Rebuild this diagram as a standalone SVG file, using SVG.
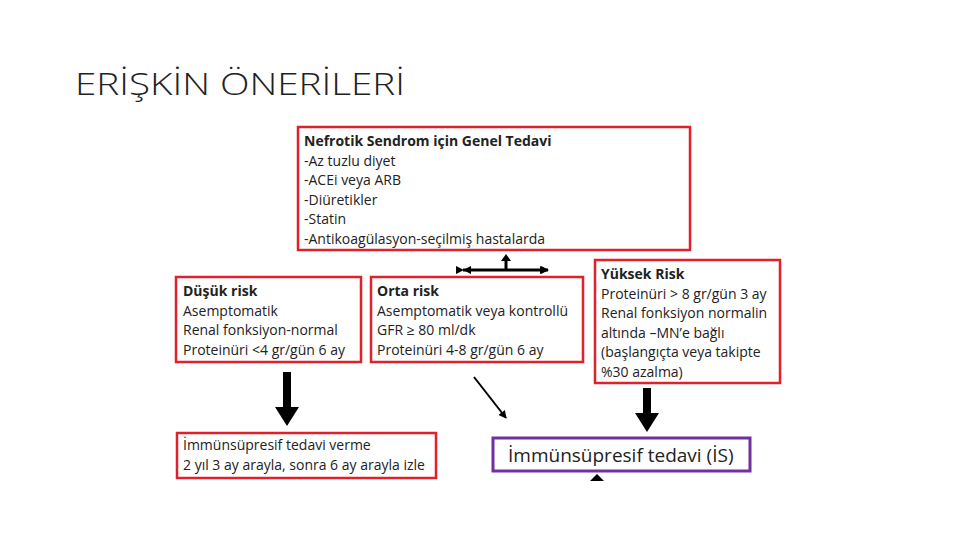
<svg xmlns="http://www.w3.org/2000/svg" width="960" height="540" viewBox="0 0 960 540">
<style>
.t{font-family:"Open Sans","Liberation Sans",sans-serif;font-size:14px;fill:#222}
.b{font-weight:bold}
.r{fill:#fff;stroke:#e0202a;stroke-width:2.5}
.p{fill:#fff;stroke:#7030a0;stroke-width:3}
</style>
<defs>
<marker id="ah" markerWidth="8" markerHeight="8" refX="7" refY="4" orient="auto" markerUnits="userSpaceOnUse"><path d="M0,0 L8,4 L0,8 Z" fill="#000"/></marker>
</defs>
<rect width="960" height="540" fill="#fff"/>
<text x="75" y="95" font-family="'Open Sans',sans-serif" font-weight="300" font-size="32" fill="#222" textLength="330" lengthAdjust="spacingAndGlyphs">ERİŞKİN ÖNERİLERİ</text>
<g id="genel"><rect class="r" x="298" y="127" width="392" height="123"/>
<text class="t" x="304" y="146"><tspan class="b">Nefrotik Sendrom için Genel Tedavi</tspan><tspan x="304" dy="19.5">-Az tuzlu diyet</tspan><tspan x="304" dy="19.5">-ACEi veya ARB</tspan><tspan x="304" dy="19.5">-Diüretikler</tspan><tspan x="304" dy="19.5">-Statin</tspan><tspan x="304" dy="19.5">-Antikoagülasyon-seçilmiş hastalarda</tspan></text></g>
<g id="dusuk"><rect class="r" x="176" y="277" width="185" height="85"/>
<text class="t" x="183" y="296"><tspan class="b">Düşük risk</tspan><tspan x="183" dy="19.5">Asemptomatik</tspan><tspan x="183" dy="19.5">Renal fonksiyon-normal</tspan><tspan x="183" dy="19.5">Proteinüri &lt;4 gr/gün 6 ay</tspan></text></g>
<g id="orta"><rect class="r" x="371" y="277" width="212" height="85"/>
<text class="t" x="377" y="296"><tspan class="b">Orta risk</tspan><tspan x="377" dy="19.5">Asemptomatik veya kontrollü</tspan><tspan x="377" dy="19.5">GFR ≥ 80 ml/dk</tspan><tspan x="377" dy="19.5">Proteinüri 4-8 gr/gün 6 ay</tspan></text></g>
<g id="yuksek"><rect class="r" x="595" y="260" width="185" height="123"/>
<text class="t" x="601" y="279"><tspan class="b">Yüksek Risk</tspan><tspan x="601" dy="19.5">Proteinüri  &gt; 8 gr/gün 3 ay</tspan><tspan x="601" dy="19.5">Renal fonksiyon normalin</tspan><tspan x="601" dy="19.5">altında –MN’e bağlı</tspan><tspan x="601" dy="19.5">(başlangıçta veya takipte</tspan><tspan x="601" dy="19.5">%30 azalma)</tspan></text></g>
<g id="verme"><rect class="r" x="177" y="433" width="259" height="45"/>
<text class="t" x="183" y="450"><tspan>İmmünsüpresif tedavi verme</tspan><tspan x="183" dy="19.5">2 yıl 3 ay arayla, sonra 6 ay arayla izle</tspan></text></g>
<g id="is"><rect class="p" x="493" y="438" width="257" height="33"/>
<text class="t" x="508" y="462" style="font-size:19px">İmmünsüpresif tedavi (İS)</text></g>
<g id="connectors">
<path d="M463,270 H548" stroke="#000" stroke-width="3" marker-start="url(#ah)" marker-end="url(#ah)"/>
<path d="M463,270 L471,266 L471,274 Z M548,270 L540,266 L540,274 Z" fill="#000"/>
<path d="M506,270 V259" stroke="#000" stroke-width="3"/>
<path d="M501,261 L506,254 L511,261 Z" fill="#000"/>
<path d="M283,372 H291 V407 H299 L287,426 L275,407 H283 Z" fill="#000"/>
<path d="M643,388 H651 V413 H659 L647,432 L635,413 H643 Z" fill="#000"/>
<path d="M474,377 L506,418" stroke="#000" stroke-width="2" marker-end="url(#ah)"/>
<path d="M590,481 L597,474 L604,481 Z" fill="#000"/>
</g>
</svg>
